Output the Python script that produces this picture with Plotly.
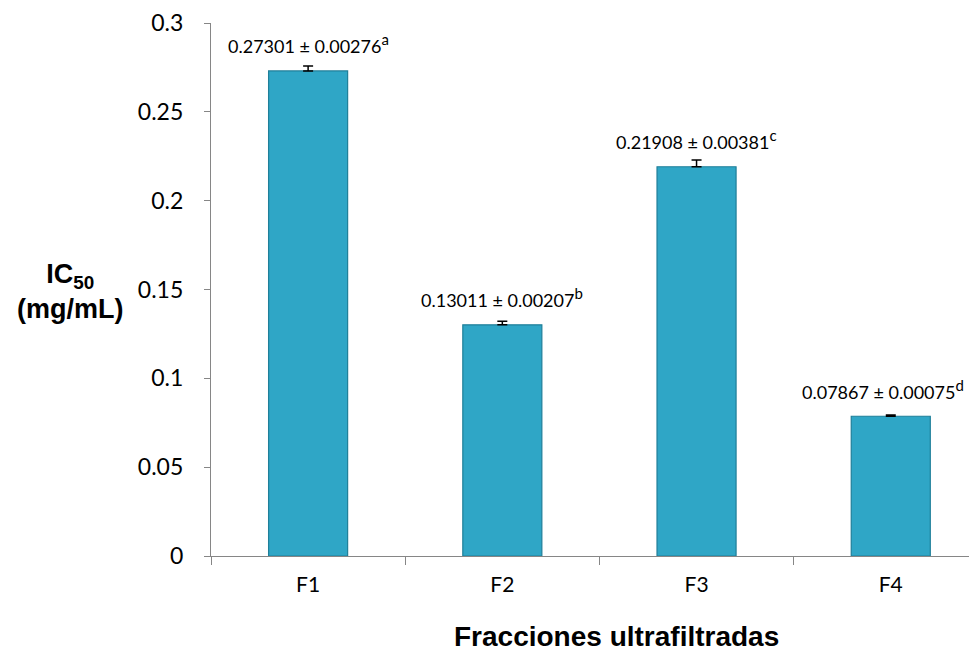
import plotly.graph_objects as go

categories = ["F1", "F2", "F3", "F4"]
ic50 = [0.27301, 0.13011, 0.21908, 0.07867]
sd = [0.00276, 0.00207, 0.00381, 0.00075]
letters = ["a", "b", "c", "d"]
y_ticks = [0, 0.05, 0.1, 0.15, 0.2, 0.25, 0.3]
y_ticktext = ["0", "0.05", "0.1", "0.15", "0.2", "0.25", "0.3"]

fig = go.Figure()
fig.add_trace(go.Bar(
    x=categories, y=ic50, width=0.407,
    marker=dict(color="#2FA6C6", line=dict(color="#1F7F99", width=1.2)),
    error_y=dict(type="data", array=sd, arrayminus=[0]*len(sd), symmetric=False,
                 color="black", thickness=1.5, width=5),
    showlegend=False,
))

for i, (c, v, s, l) in enumerate(zip(categories, ic50, sd, letters)):
    last = i == len(categories) - 1
    fig.add_annotation(
        x=c, y=v, xref="x", yref="y",
        text=f"{v:.5f} ± {s:.5f}<sup><span style='font-size:15px'>{l}</span></sup>",
        showarrow=False, yanchor="middle", yshift=27, xshift=-8 if last else 0,
        font=dict(family="Lato", size=18, color="black"),
    )

fig.add_annotation(
    x=-0.184, y=0.497, xref="paper", yref="paper",
    text="<b>IC<sub>50</sub></b><br><b>(mg/mL)</b>",
    showarrow=False, xanchor="center", yanchor="middle",
    font=dict(family="Liberation Sans", size=27, color="black"),
)
fig.add_annotation(
    x=0.529, y=-0.183, xref="paper", yref="paper",
    text="<b>Fracciones ultrafiltradas</b>",
    showarrow=False, xanchor="center", yanchor="bottom",
    font=dict(family="Liberation Sans", size=28, color="black"),
)

# page body has an 8px default margin: size the figure to fit the 977x658 window
fig.update_layout(
    width=969, height=650,
    margin=dict(l=203, r=0, t=13, b=102),
    paper_bgcolor="white", plot_bgcolor="white",
    xaxis=dict(
        range=[-0.5, 3.444], showline=True, linecolor="#868686", linewidth=1.2,
        ticks="outside", tickson="boundaries", ticklen=8, tickcolor="#868686",
        tickfont=dict(family="Lato", size=21, color="black"),
        showgrid=False, zeroline=False, ticklabelstandoff=10,
    ),
    yaxis=dict(
        range=[0, 0.3], tickvals=y_ticks, ticktext=y_ticktext,
        showline=True, linecolor="#868686", linewidth=1.2,
        ticks="outside", ticklen=6, tickcolor="#868686",
        tickfont=dict(family="Lato", size=23, color="black"),
        showgrid=False, zeroline=False, ticklabelstandoff=16,
        ticklabeloverflow="allow",
    ),
)

fig.write_html("out.html")
